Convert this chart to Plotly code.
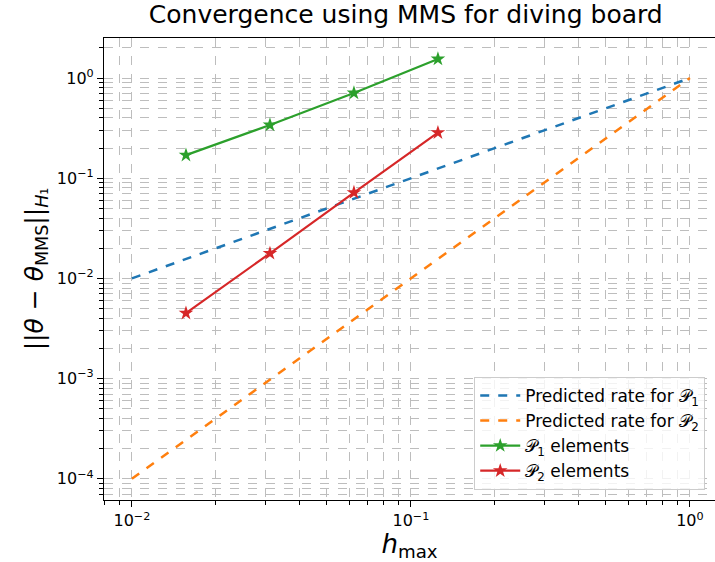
import plotly.graph_objects as go

h_pred = [0.01, 1.0]
rate_p1 = [0.01, 1.0]
rate_p2 = [0.0001, 1.0]

h_data = [1/64, 1/32, 1/16, 1/8]
err_p1 = [0.17, 0.34, 0.71, 1.55]
err_p2 = [0.0045, 0.0178, 0.072, 0.285]

x_tickvals = [0.01, 0.1, 1]
x_ticktext = ["10<sup>−2</sup>", "10<sup>−1</sup>", "10<sup>0</sup>"]
y_tickvals = [1e-4, 1e-3, 1e-2, 1e-1, 1]
y_ticktext = ["10<sup>−4</sup>", "10<sup>−3</sup>", "10<sup>−2</sup>", "10<sup>−1</sup>", "10<sup>0</sup>"]

P = "𝒫"
fig = go.Figure()
fig.add_trace(go.Scatter(x=h_pred, y=rate_p1, mode="lines",
                         line=dict(color="#1f77b4", width=2.5, dash="dash"),
                         name=f"Predicted rate for {P}<sub>1</sub>"))
fig.add_trace(go.Scatter(x=h_pred, y=rate_p2, mode="lines",
                         line=dict(color="#ff7f0e", width=2.5, dash="dash"),
                         name=f"Predicted rate for {P}<sub>2</sub>"))
fig.add_trace(go.Scatter(x=h_data, y=err_p1, mode="lines+markers",
                         line=dict(color="#2ca02c", width=2.2),
                         marker=dict(symbol="star", size=11, color="#2ca02c"),
                         name=f"{P}<sub>1</sub> elements"))
fig.add_trace(go.Scatter(x=h_data, y=err_p2, mode="lines+markers",
                         line=dict(color="#d62728", width=2.2),
                         marker=dict(symbol="star", size=11, color="#d62728"),
                         name=f"{P}<sub>2</sub> elements"))

grid = "#bdbdbd"
axis_common = dict(
    type="log", showline=True, mirror=True, linecolor="black", linewidth=1.2,
    ticks="outside", ticklen=6, tickcolor="black", tickwidth=1.2,
    showgrid=True, gridcolor=grid, griddash="dash", gridwidth=1,
    zeroline=False, automargin=False,
    tickfont=dict(family="DejaVu Sans", size=16, color="black"),
    minor=dict(dtick="D1", ticks="outside", ticklen=3.5, tickcolor="black", tickwidth=1,
               showgrid=True, gridcolor=grid, griddash="dash", gridwidth=1),
)

fig.update_xaxes(**axis_common, range=[-2.1, 0.09],
                 tickvals=x_tickvals, ticktext=x_ticktext,
                 title=dict(text="<i>h</i><sub>max</sub>",
                            font=dict(family="DejaVu Sans", size=26, color="black"),
                            standoff=2))
fig.update_yaxes(**axis_common, range=[-4.212, 0.40],
                 tickvals=y_tickvals, ticktext=y_ticktext,
                 title=dict(text="||<i>θ</i> − <i>θ</i><sub>MMS</sub>||<sub><i>H</i>₁</sub>",
                            font=dict(family="DejaVu Sans", size=25, color="black"),
                            standoff=6))

fig.update_layout(
    width=715, height=562,
    margin=dict(l=104, r=0, t=38, b=62),
    paper_bgcolor="white", plot_bgcolor="white",
    title=dict(text="Convergence using MMS for diving board",
               font=dict(family="DejaVu Sans", size=25, color="black"),
               x=0.5675, xanchor="center", y=0.99, yanchor="top"),
    legend=dict(x=0.984, y=0.022, xanchor="right", yanchor="bottom",
                bgcolor="rgba(255,255,255,0.8)", bordercolor="#cccccc", borderwidth=1,
                font=dict(family="DejaVu Sans", size=17, color="black"),
                tracegroupgap=0, itemwidth=40),
    font=dict(family="DejaVu Sans"),
)

fig.write_html("out.html",
               config={"displayModeBar": False},
               post_script="document.body.style.margin='0';document.body.style.padding='0';document.body.style.overflow='hidden';")
